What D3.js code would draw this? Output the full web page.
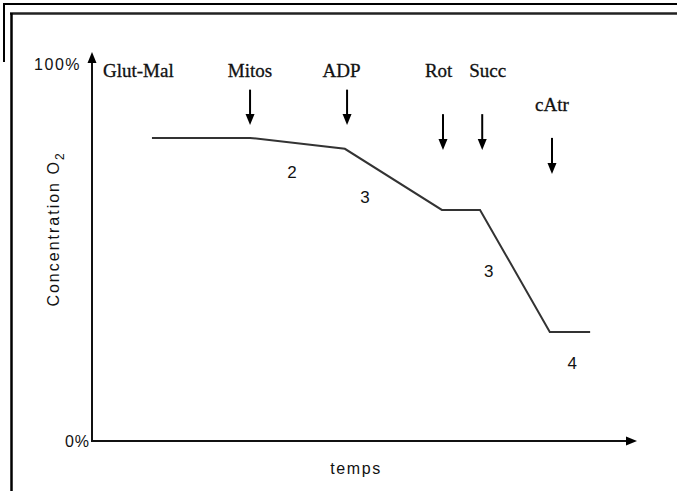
<!DOCTYPE html>
<html><head><meta charset="utf-8">
<script src="https://cdn.jsdelivr.net/npm/d3@7"></script>
<style>body{margin:0;background:#fff}svg{display:block}</style>
</head><body>
<script>
// ---- data ----
const curveTime = [11, 29, 46.4, 64.2, 71.2, 84, 91.4];
const curveO2   = [80.4, 80.4, 77.5, 61.3, 61.3, 28.9, 28.9];

const addLabels = ["Glut-Mal", "Mitos", "ADP", "Rot", "Succ", "cAtr"];
const addTime   = [8.8, 29, 46.8, 64.4, 71.6, 84.4];
const labelTime = [8.8, 29, 45.8, 63.6, 72.6, 84.4];
const labelO2   = [96.6, 96.6, 96.6, 96.6, 96.6, 87.6];
const arrowFrom = [null, 93.2, 93.2, 86.7, 86.7, 80.4];
const arrowTo   = [null, 83.8, 83.8, 77.2, 77.2, 70.8];

const rateLabels = ["2", "3", "3", "4"];
const rateTime   = [36.7, 50.1, 72.8, 88.1];
const rateO2     = [71.4, 64.8, 45.2, 20.8];

const yTickValues = [0, 100];
const yTickLabels = ["0%", "100%"];
const xTitle = "temps";
const yTitle = "Concentration O";
const yTitleSub = "2";

// ---- layout ----
const W = 677, H = 491;
const svg = d3.select("body").append("svg").attr("width", W).attr("height", H);
svg.append("rect").attr("width", W).attr("height", H).attr("fill", "#fff");

// frames
svg.append("line").attr("x1", 3).attr("x2", W).attr("y1", 4).attr("y2", 4).attr("stroke", "#000").attr("stroke-width", 2);
svg.append("line").attr("x1", 4).attr("x2", 4).attr("y1", 3).attr("y2", 62).attr("stroke", "#000").attr("stroke-width", 2);
svg.append("line").attr("x1", 10).attr("x2", W).attr("y1", 13.5).attr("y2", 13.5).attr("stroke", "#222").attr("stroke-width", 2.5);
svg.append("line").attr("x1", 11.5).attr("x2", 11.5).attr("y1", 13).attr("y2", H).attr("stroke", "#000").attr("stroke-width", 2.5);

const x = d3.scaleLinear().domain([0, 100]).range([92, 637]);
const y = d3.scaleLinear().domain([0, 100]).range([441, 64]);

function arrowHead(tx, ty, dir) {
  const w = 4.5, l = 11;
  if (dir === "up") return `M${tx},${ty}L${tx - w},${ty + l}L${tx + w},${ty + l}Z`;
  if (dir === "down") return `M${tx},${ty}L${tx - w},${ty - l}L${tx + w},${ty - l}Z`;
  return `M${tx},${ty}L${tx - l},${ty - w}L${tx - l},${ty + w}Z`;
}

// axes
const yTop = y(103.2);
svg.append("line").attr("x1", x(0)).attr("x2", x(0)).attr("y1", y(0)).attr("y2", yTop + 6)
  .attr("stroke", "#111").attr("stroke-width", 2);
svg.append("path").attr("d", arrowHead(x(0), yTop, "up")).attr("fill", "#000");
svg.append("line").attr("x1", x(0) - 1).attr("x2", x(100) - 6).attr("y1", y(0)).attr("y2", y(0))
  .attr("stroke", "#111").attr("stroke-width", 2);
svg.append("path").attr("d", arrowHead(x(100), y(0), "right")).attr("fill", "#000");

const sansFont = "'Liberation Sans', Arial, sans-serif";
const serifFont = "'Liberation Serif', 'Times New Roman', serif";

// y tick labels
svg.append("text").attr("x", 90).attr("y", y(yTickValues[0]) + 6).attr("text-anchor", "end")
  .attr("font-family", sansFont).attr("font-size", 16).attr("letter-spacing", 1).attr("fill", "#111")
  .text(yTickLabels[0]);
svg.append("text").attr("x", 81).attr("y", y(yTickValues[1]) + 6).attr("text-anchor", "end")
  .attr("font-family", sansFont).attr("font-size", 16).attr("letter-spacing", 1.5).attr("fill", "#111")
  .text(yTickLabels[1]);

// axis titles
svg.append("text").attr("x", 356).attr("y", 474).attr("text-anchor", "middle")
  .attr("font-family", sansFont).attr("font-size", 16).attr("letter-spacing", 1.6).attr("fill", "#111")
  .text(xTitle);
const yt = svg.append("text").attr("transform", "translate(59,229) rotate(-90)").attr("text-anchor", "middle")
  .attr("font-family", sansFont).attr("font-size", 16).attr("letter-spacing", 2).attr("fill", "#111");
yt.append("tspan").text(yTitle);
yt.append("tspan").attr("dy", 5).attr("font-size", 12).text(yTitleSub);

// curve
const line = d3.line().x(d => x(d[0])).y(d => y(d[1]));
svg.append("path").datum(d3.zip(curveTime, curveO2)).attr("d", line)
  .attr("fill", "none").attr("stroke", "#333").attr("stroke-width", 2).attr("stroke-linejoin", "miter");

// addition labels and arrows
addLabels.forEach((lab, i) => {
  const anchor = i === 0 ? "start" : "middle";
  const xx = i === 0 ? 103 : x(labelTime[i]);
  svg.append("text").attr("x", xx).attr("y", y(labelO2[i])).attr("text-anchor", anchor)
    .attr("font-family", serifFont).attr("font-size", 19).attr("fill", "#111")
    .attr("stroke", "#111").attr("stroke-width", 0.3).text(lab);
  if (arrowFrom[i] !== null) {
    const ax = x(addTime[i]);
    svg.append("line").attr("x1", ax).attr("x2", ax).attr("y1", y(arrowFrom[i])).attr("y2", y(arrowTo[i]) - 6)
      .attr("stroke", "#000").attr("stroke-width", 2);
    svg.append("path").attr("d", arrowHead(ax, y(arrowTo[i]), "down")).attr("fill", "#000");
  }
});

// rate labels
rateLabels.forEach((r, i) => {
  svg.append("text").attr("x", x(rateTime[i])).attr("y", y(rateO2[i]) + 6).attr("text-anchor", "middle")
    .attr("font-family", sansFont).attr("font-size", 17).attr("fill", "#111").text(r);
});
</script>
</body></html>
